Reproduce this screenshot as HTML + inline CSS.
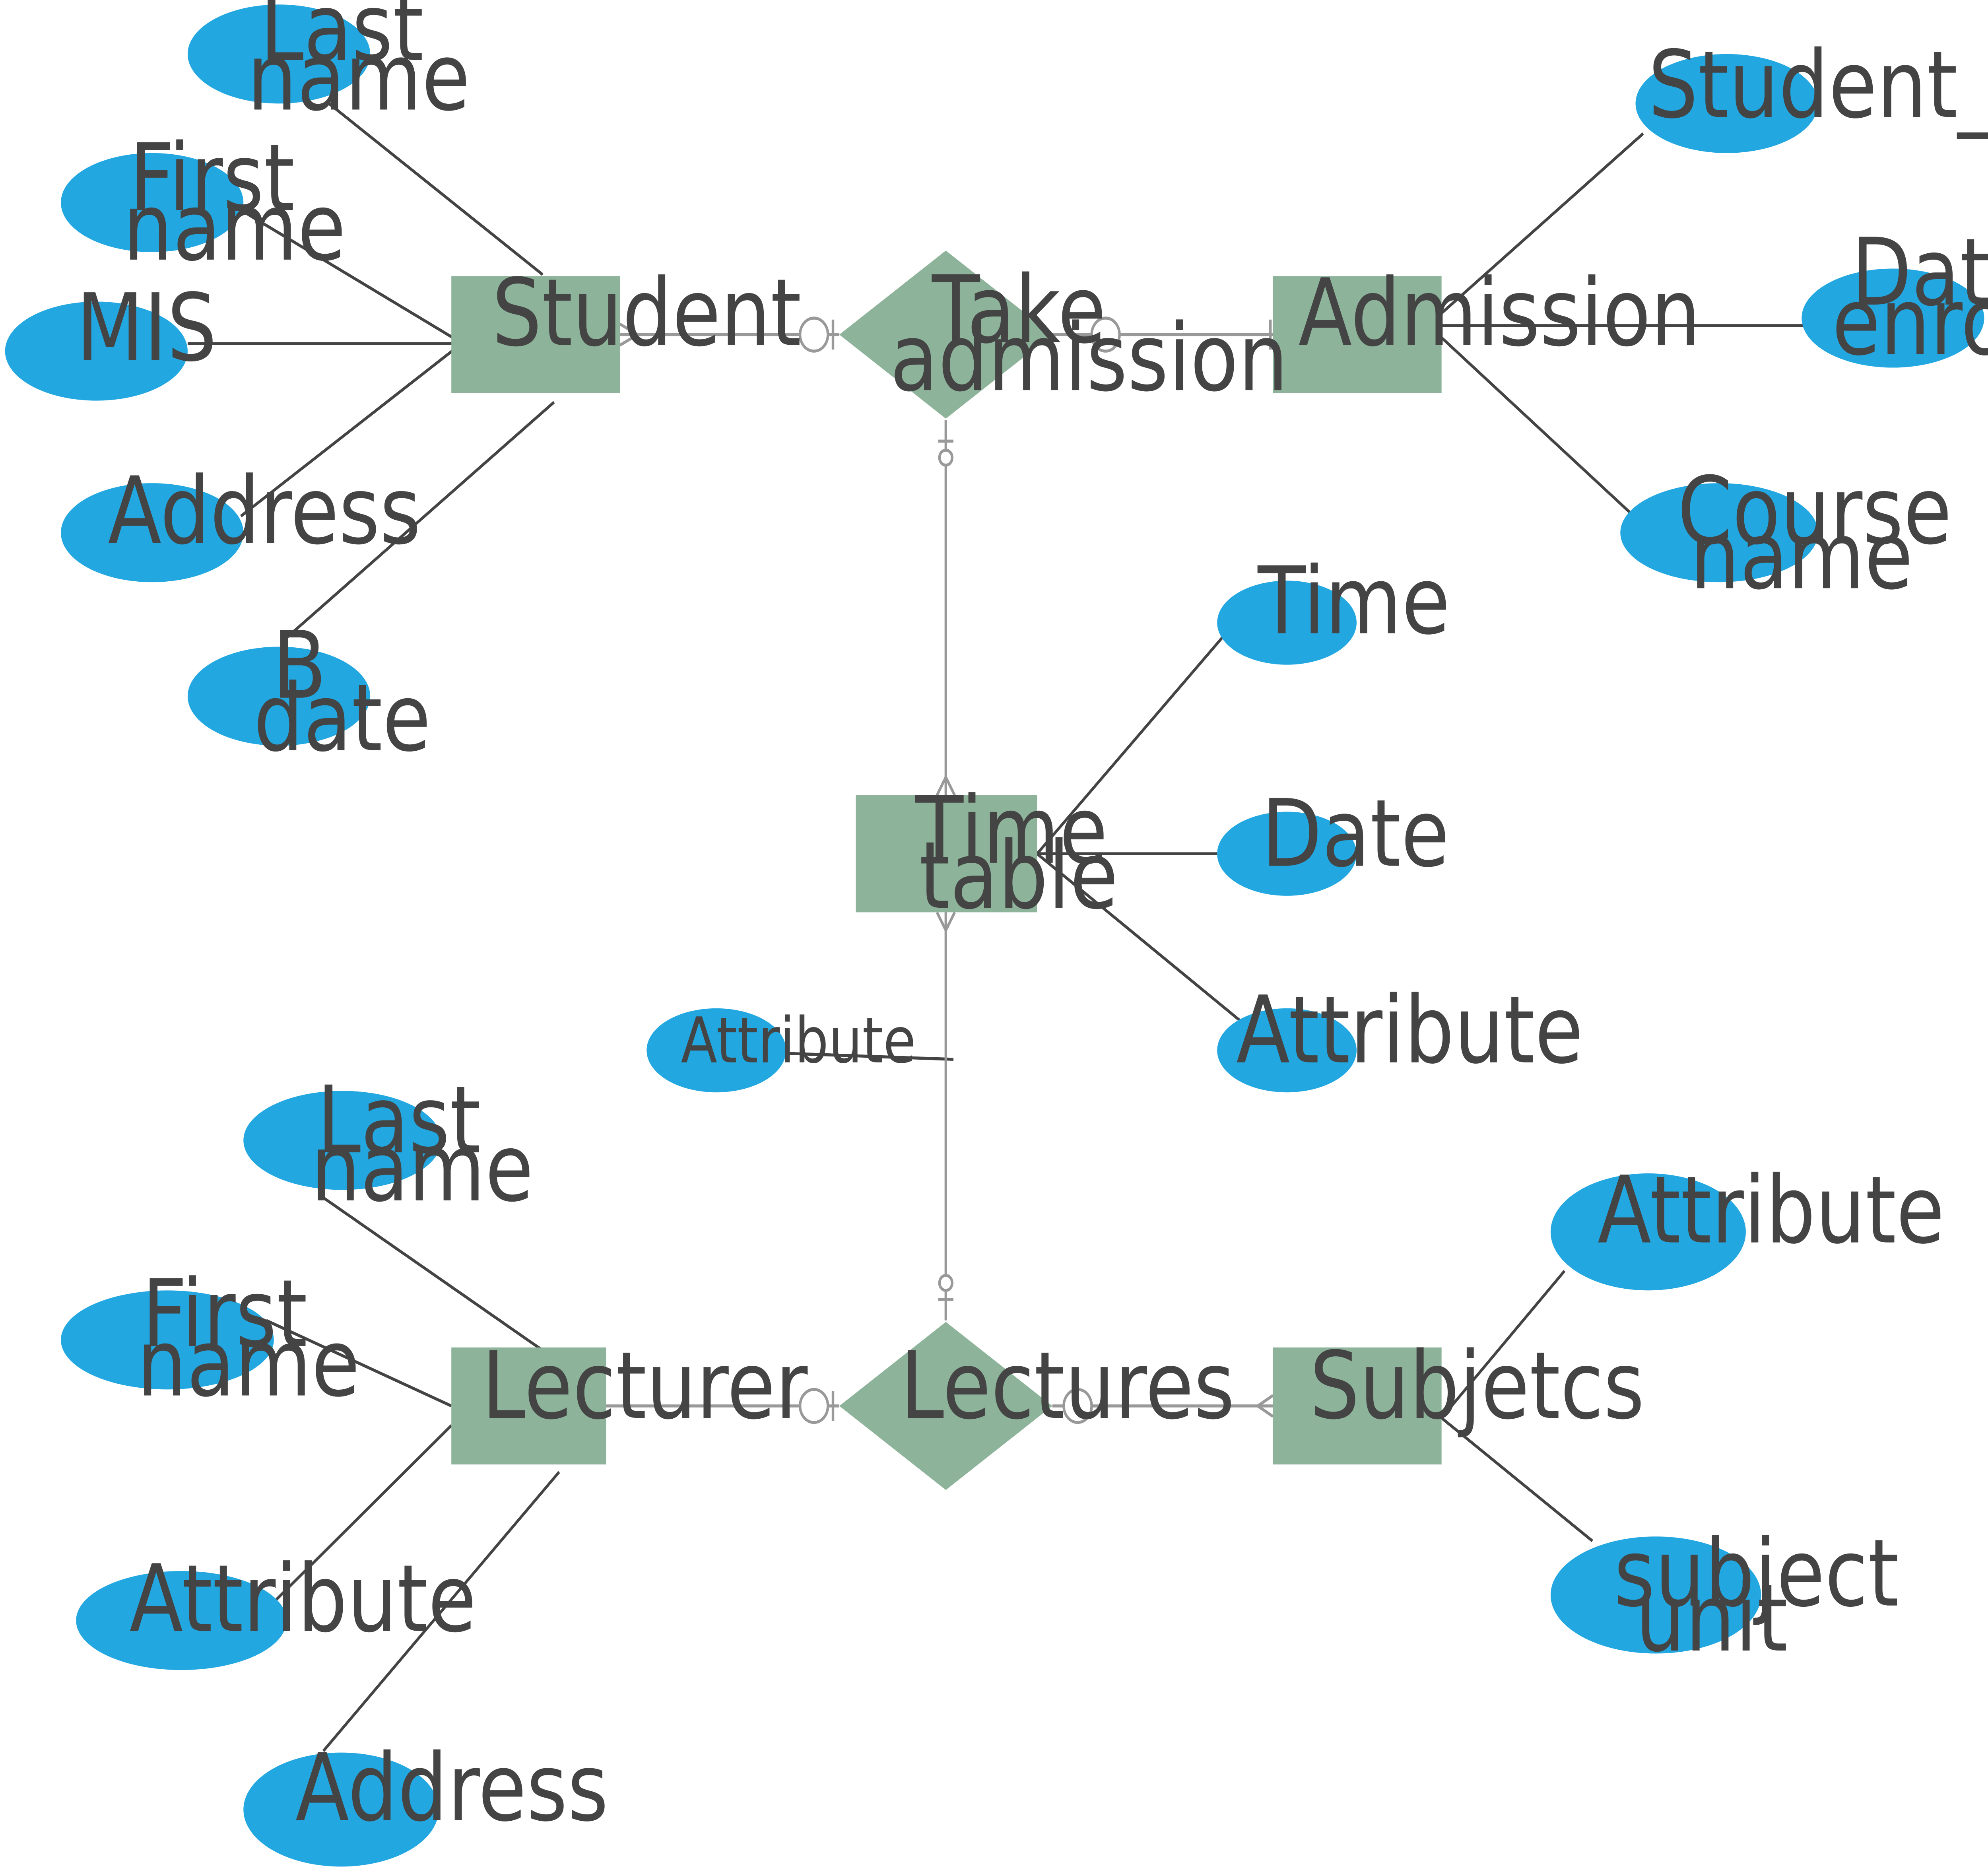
<!DOCTYPE html>
<html><head><meta charset="utf-8"><style>
html,body{margin:0;padding:0;background:#fff;overflow:hidden;width:100%;height:100%}
svg{display:block;width:100vw;height:100vh}
text{font-family:"DejaVu Sans","Liberation Sans",sans-serif;fill:#444;font-size:62px}
</style></head><body>
<svg viewBox="0 0 1568 1247.6" preserveAspectRatio="none" xmlns="http://www.w3.org/2000/svg">
<rect width="1568" height="1248" fill="#fff"/>
<g stroke="#444" stroke-width="2">
<line x1="258" y1="68" x2="428" y2="183"/>
<line x1="190" y1="140" x2="363" y2="228"/>
<line x1="148" y1="229" x2="363" y2="229"/>
<line x1="190" y1="344" x2="358" y2="233"/>
<line x1="222" y1="428" x2="437" y2="268"/>
<line x1="1296" y1="89" x2="1130" y2="214"/>
<line x1="1137" y1="217" x2="1422" y2="217"/>
<line x1="1137" y1="225" x2="1290" y2="345"/>
<line x1="968" y1="421" x2="818" y2="569"/>
<line x1="818" y1="569" x2="960" y2="569"/>
<line x1="818" y1="569" x2="985" y2="685"/>
<line x1="620" y1="702" x2="752" y2="706"/>
<line x1="253" y1="797" x2="440" y2="907"/>
<line x1="210" y1="880" x2="356" y2="937"/>
<line x1="218" y1="1066" x2="356" y2="950"/>
<line x1="255" y1="1167" x2="441" y2="981"/>
<line x1="1234" y1="847" x2="1137" y2="945"/>
<line x1="1256" y1="1027" x2="1137" y2="945"/>
</g>
<g stroke="#999" stroke-width="2" fill="#fff">
<line x1="489" y1="223" x2="662" y2="223"/>
<polyline points="489,216 503,223 489,230" fill="none"/>
<line x1="657" y1="213" x2="657" y2="233"/>
<circle cx="642" cy="223" r="11"/>
<line x1="830" y1="223" x2="1004" y2="223"/>
<line x1="1002" y1="213" x2="1002" y2="233"/>
<circle cx="872" cy="223" r="11"/>
<line x1="746" y1="280" x2="746" y2="530"/>
<line x1="740" y1="294" x2="752" y2="294"/>
<circle cx="746" cy="305" r="5"/>
<polyline points="739,530 746,518 753,530" fill="none"/>
<line x1="746" y1="608" x2="746" y2="880"/>
<polyline points="739,608 746,620 753,608" fill="none"/>
<line x1="740" y1="866" x2="752" y2="866"/>
<circle cx="746" cy="855" r="5"/>
<line x1="478" y1="937" x2="662" y2="937"/>
<line x1="657" y1="927" x2="657" y2="947"/>
<circle cx="642" cy="937" r="11"/>
<line x1="830" y1="937" x2="1004" y2="937"/>
<polyline points="1004,930 992,937 1004,944" fill="none"/>
<circle cx="850" cy="937" r="11"/>
</g>
<g fill="#8db39a">
<rect x="356" y="184" width="133" height="78"/>
<rect x="1004" y="184" width="133" height="78"/>
<rect x="675" y="530" width="143" height="78"/>
<rect x="356" y="898" width="122" height="78"/>
<rect x="1004" y="898" width="133" height="78"/>
<polygon points="662,223 746,167 830,223 746,279"/>
<polygon points="662,937 746,881 830,937 746,993"/>
</g>
<g fill="#22a7e0">
<ellipse cx="220" cy="36" rx="72" ry="33"/>
<ellipse cx="120" cy="135" rx="72" ry="33"/>
<ellipse cx="76" cy="234" rx="72" ry="33"/>
<ellipse cx="120" cy="355" rx="72" ry="33"/>
<ellipse cx="220" cy="464" rx="72" ry="33"/>
<ellipse cx="1362" cy="69" rx="72" ry="33"/>
<ellipse cx="1493" cy="212" rx="72" ry="33"/>
<ellipse cx="1356" cy="355" rx="78" ry="33"/>
<ellipse cx="1015" cy="415" rx="55" ry="28"/>
<ellipse cx="1015" cy="569" rx="55" ry="28"/>
<ellipse cx="1015" cy="700" rx="55" ry="28"/>
<ellipse cx="565" cy="700" rx="55" ry="28"/>
<ellipse cx="270" cy="760" rx="78" ry="33"/>
<ellipse cx="132" cy="893" rx="84" ry="33"/>
<ellipse cx="143" cy="1080" rx="83" ry="33"/>
<ellipse cx="269" cy="1206" rx="77" ry="38"/>
<ellipse cx="1300" cy="821" rx="77" ry="39"/>
<ellipse cx="1306" cy="1063" rx="83" ry="39"/>
</g>
<g>
<text x="205" y="40">Last</text><text x="195" y="73">name</text>
<text x="102" y="140">First</text><text x="97" y="173">name</text>
<text x="60" y="240">MIS</text>
<text x="85" y="362">Address</text>
<text x="215" y="465">B</text><text x="200" y="500">date</text>
<text x="388" y="230">Student</text>
<text x="735" y="228">Take</text><text x="702" y="260">admission</text>
<text x="1024" y="230">Admission</text>
<text x="1300" y="78">Student_id</text>
<text x="1460" y="203">Date</text><text x="1445" y="236">enroll</text>
<text x="1323" y="362">Course</text><text x="1333" y="392">name</text>
<text x="992" y="422">Time</text>
<text x="722" y="575">Time</text><text x="725" y="605">table</text>
<text x="995" y="577">Date</text>
<text x="975" y="708">Attribute</text>
<text x="537" y="708" style="font-size:42px">Attribute</text>
<text x="250" y="768">Last</text><text x="245" y="800">name</text>
<text x="112" y="897">First</text><text x="108" y="930">name</text>
<text x="380" y="945">Lecturer</text>
<text x="710" y="945">Lectures</text>
<text x="1033" y="945">Subjetcs</text>
<text x="1260" y="828">Attribute</text>
<text x="1273" y="1070">subject</text><text x="1290" y="1100">unit</text>
<text x="102" y="1087">Attribute</text>
<text x="233" y="1213">Address</text>
</g>
</svg>
</body></html>
